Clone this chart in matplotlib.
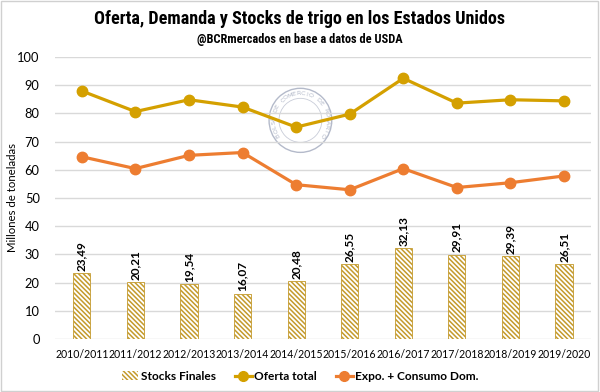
import matplotlib
matplotlib.use("Agg")
import matplotlib.pyplot as plt
from matplotlib import font_manager
import numpy as np
from matplotlib.patches import Rectangle, Ellipse
from matplotlib.lines import Line2D

campaigns = ["2010/2011", "2011/2012", "2012/2013", "2013/2014", "2014/2015",
             "2015/2016", "2016/2017", "2017/2018", "2018/2019", "2019/2020"]
stocks_finales = [23.49, 20.21, 19.54, 16.07, 20.48, 26.55, 32.13, 29.91, 29.39, 26.51]
oferta_total = [87.9, 80.6, 84.8, 82.2, 75.1, 79.7, 92.4, 83.6, 84.8, 84.4]
expo_consumo = [64.6, 60.4, 65.1, 66.1, 54.7, 52.9, 60.4, 53.7, 55.4, 57.8]
stock_labels = ["23,49", "20,21", "19,54", "16,07", "20,48", "26,55", "32,13", "29,91", "29,39", "26,51"]

gold = "#D4A000"
orange = "#ED7D31"
hatch_col = "#C49A2C"
seal_col = "#B4BACA"

available = {f.name for f in font_manager.fontManager.ttflist}
title_font = None
for cand in ["Liberation Sans Narrow", "DejaVu Sans Condensed", "Roboto Condensed", "Open Sans Condensed"]:
    if cand in available:
        title_font = cand
        break
if title_font:
    tfam, tsize, ssize = [title_font, "DejaVu Sans"], 13.1, 8.9
else:
    tfam, tsize, ssize = ["DejaVu Sans"], 11.5, 8.5

body = ["Lato", "DejaVu Sans"]
plt.rcParams['font.family'] = body
plt.rcParams['hatch.linewidth'] = 1.1
plt.rcParams['hatch.color'] = hatch_col

fig = plt.figure(figsize=(6, 3.92), dpi=100)
ax = fig.add_axes([0.0917, 0.135, 0.893, 0.72])

x = np.arange(len(campaigns))
ax.bar(x, stocks_finales, width=0.32, color="white", edgecolor=hatch_col,
       hatch="\\\\\\\\\\\\\\", linewidth=0.6, zorder=2)
for xi, v, lab in zip(x, stocks_finales, stock_labels):
    ax.text(xi, v + 0.8, lab, rotation=90, ha="center", va="bottom",
            fontsize=8.5, fontweight="bold", color="black")

ax.plot(x, oferta_total, color=gold, lw=2.3, marker="o", ms=7.5, zorder=3)
ax.plot(x, expo_consumo, color=orange, lw=2.3, marker="o", ms=7.5, zorder=3)

ax.set_ylim(0, 100)
ax.set_xlim(-0.5, len(campaigns) - 0.5)
ax.set_yticks(range(0, 101, 10))
ax.set_xticks(x)
ax.set_xticklabels(campaigns, fontsize=7.6)
ax.tick_params(axis="y", labelsize=9.3, length=0, pad=11)
ax.tick_params(axis="x", length=0, pad=7)
ax.grid(axis="y", color="#D9D9D9", lw=1, zorder=0)
for s in ax.spines.values():
    s.set_visible(False)
ax.set_ylabel("Millones de toneladas", fontsize=8.2)
ax.yaxis.set_label_coords(-0.07, 0.5)

# watermark seal (Bolsa de Comercio de Rosario)
cx, cy = 4.08, 77.5
ax.add_patch(Ellipse((cx, cy), 1.17, 22.7, fill=False, edgecolor=seal_col, lw=1.0, zorder=1))
ax.add_patch(Ellipse((cx, cy), 0.80, 15.6, fill=False, edgecolor="#C8CCD8", lw=0.6, zorder=1))
seal_text = "BOLSA DE COMERCIO DE ROSARIO"
r_pt = 19.2
angles = np.linspace(212, -32, len(seal_text))
for ch, a in zip(seal_text, angles):
    rad = np.deg2rad(a)
    ax.annotate(ch, xy=(cx, cy), xytext=(r_pt * np.cos(rad), r_pt * np.sin(rad)),
                textcoords="offset points", ha="center", va="center",
                rotation=a - 90, fontsize=4.6, color=seal_col, zorder=1,
                family=["DejaVu Sans"])

fig.text(0.5, 0.952, "Oferta, Demanda y Stocks de trigo en los Estados Unidos",
         ha="center", va="center", fontsize=tsize, fontweight="bold", family=tfam)
fig.text(0.5, 0.899, "@BCRmercados en base a datos de USDA",
         ha="center", va="center", fontsize=ssize, fontweight="bold", family=tfam)

handles = [
    Rectangle((0, 0), 1, 1, facecolor="white", edgecolor=hatch_col, hatch="\\\\\\\\\\\\\\", lw=0),
    Line2D([], [], color=gold, lw=2.3, marker="o", ms=7),
    Line2D([], [], color=orange, lw=2.3, marker="o", ms=7),
]
fig.legend(handles, ["Stocks Finales", "Oferta total", "Expo. + Consumo Dom."],
           loc="center", bbox_to_anchor=(0.5, 0.04), ncol=3, frameon=False,
           prop={"weight": "bold", "size": 8.6}, handlelength=1.4, columnspacing=1.6,
           handletextpad=0.2)

fig.patches.append(Rectangle((0.002, 0.003), 0.995, 0.994, transform=fig.transFigure,
                             fill=False, edgecolor="#D0D0D0", lw=1))
fig.savefig("out.png", dpi=100)
